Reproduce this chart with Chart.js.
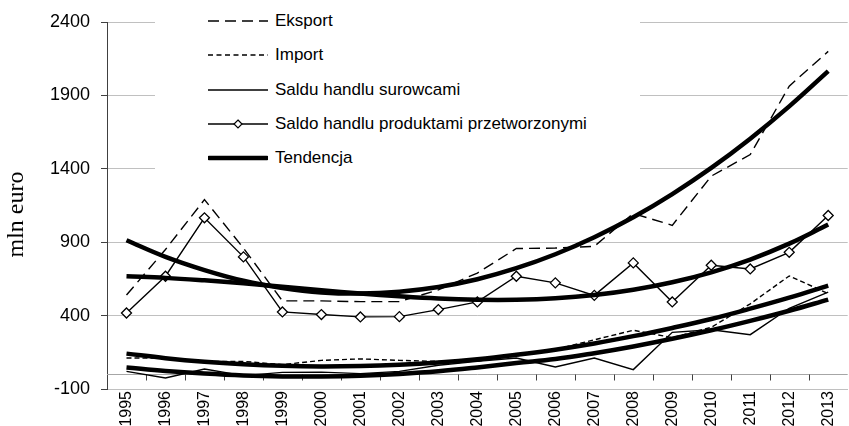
<!DOCTYPE html>
<html>
<head>
<meta charset="utf-8">
<script src="https://cdn.jsdelivr.net/npm/chart.js@4.4.1/dist/chart.umd.min.js"></script>
<style>
  html, body { margin: 0; padding: 0; overflow: hidden; background: #fff; }
  #wrap { position: relative; width: 854px; height: 426px; }
  #legend {
    position: absolute; left: 155px; top: 0; width: 485px; height: 188px;
    background: #fff; color: #000;
    font: 17px "Liberation Sans", Arial, sans-serif;
  }
  .row { position: absolute; left: 53px; height: 20px; display: flex; align-items: center; white-space: nowrap; }
  .row svg { margin-right: 7px; }
</style>
</head>
<body>
<div id="wrap">
  <canvas id="chart"></canvas>
  <div id="legend"></div>
</div>
<script>
const years = ['1995', '1996', '1997', '1998', '1999', '2000', '2001', '2002', '2003', '2004',
  '2005', '2006', '2007', '2008', '2009', '2010', '2011', '2012', '2013'];

const eksport = [540, 850, 1190, 860, 500, 500, 495, 495, 575, 690, 857, 860, 872, 1095, 1015, 1350, 1497, 1963, 2200];
const importVals = [111, 110, 88, 88, 66, 95, 105, 95, 88, 90, 125, 170, 235, 300, 250, 320, 480, 670, 550];
const saldoSurowce = [20, -25, 36, -9, 13, 15, 5, 20, 62, 88, 111, 50, 111, 32, 286, 304, 270, 450, 560];
const saldoPrzetworzone = [418, 668, 1066, 800, 425, 407, 391, 393, 441, 493, 668, 623, 538, 759, 493, 743, 718, 831, 1082];

// trend curves
const trendEksport = [913, 800, 710, 637, 588, 558, 550, 563, 595, 648, 723, 818, 934, 1070, 1228, 1406, 1605, 1825, 2065];
const trendPrzetworzone = [668, 657, 640, 620, 597, 573, 550, 531, 516, 508, 508, 518, 540, 576, 627, 695, 782, 890, 1020];
const trendImport = [141, 110, 86, 69, 58, 54, 57, 66, 81, 103, 133, 168, 210, 260, 316, 377, 447, 522, 604];
const trendSurowce = [47, 23, 5, -8, -14, -14, -9, 3, 21, 47, 77, 104, 144, 190, 242, 300, 364, 433, 509];

const yTicks = [-100, 400, 900, 1400, 1900, 2400];

const seriesNames = ['Eksport', 'Import', 'Saldu handlu surowcami', 'Saldo handlu produktami przetworzonymi', 'Tendencja'];

Chart.defaults.font.family = '"Liberation Sans", Arial, sans-serif';
Chart.defaults.color = '#000';

function dataLine(label, data, dash, extra) {
  return Object.assign({
    label: label,
    data: data,
    borderColor: '#000',
    borderWidth: 1.4,
    borderDash: dash,
    pointRadius: 0,
    tension: 0,
    fill: false,
    order: 1,
  }, extra || {});
}

function trendLine(data) {
  return {
    label: seriesNames[4],
    data: data,
    borderColor: '#000',
    borderWidth: 4.5,
    pointRadius: 0,
    tension: 0.4,
    fill: false,
    order: 0,
  };
}

// horizontal axis line crossing at 0, with tick marks between the years
const zeroAxis = {
  id: 'zeroAxis',
  beforeDatasetsDraw(chart) {
    const { ctx, chartArea, scales } = chart;
    const x = scales.x;
    const y0 = Math.round(scales.y.getPixelForValue(0)) + 0.5;
    const half = (x.getPixelForValue(1) - x.getPixelForValue(0)) / 2;

    ctx.save();
    ctx.lineWidth = 1;
    ctx.strokeStyle = '#a6a6a6';
    ctx.beginPath();
    ctx.moveTo(chartArea.left, y0);
    ctx.lineTo(chartArea.right, y0);
    ctx.stroke();

    ctx.strokeStyle = '#404040';
    ctx.beginPath();
    for (let i = 1; i < years.length; i++) {
      const px = Math.round(x.getPixelForValue(i) - half) + 0.5;
      ctx.moveTo(px, y0);
      ctx.lineTo(px, y0 + 6);
    }
    ctx.stroke();
    ctx.restore();
  },
};

const ctx = document.getElementById('chart').getContext('2d');

new Chart(ctx, {
  type: 'line',
  data: {
    labels: years,
    datasets: [
      dataLine(seriesNames[0], eksport, [11, 6]),
      dataLine(seriesNames[1], importVals, [5, 3]),
      dataLine(seriesNames[2], saldoSurowce, []),
      dataLine(seriesNames[3], saldoPrzetworzone, [], {
        pointStyle: 'rectRot',
        pointRadius: 5,
        pointBackgroundColor: '#fff',
        pointBorderColor: '#000',
        pointBorderWidth: 1.3,
      }),
      trendLine(trendEksport),
      trendLine(trendPrzetworzone),
      trendLine(trendImport),
      trendLine(trendSurowce),
    ],
  },
  options: {
    responsive: true,
    maintainAspectRatio: false,
    animation: false,
    layout: { padding: { top: 22, right: 0, bottom: 0, left: 0 } },
    plugins: {
      legend: { display: false },
      tooltip: { enabled: false },
    },
    scales: {
      x: {
        offset: true,
        grid: { display: false, drawTicks: false },
        border: { color: '#c0c0c0' },
        ticks: {
          font: { size: 16 },
          minRotation: 90,
          maxRotation: 90,
          padding: 2,
          autoSkip: false,
        },
        afterFit: (scale) => { scale.height = 37; },
      },
      y: {
        min: -100,
        max: 2400,
        afterBuildTicks: (scale) => { scale.ticks = yTicks.map((v) => ({ value: v })); },
        grid: { color: '#c0c0c0', tickColor: '#404040', tickLength: 6 },
        border: { color: '#404040' },
        ticks: { font: { size: 18 }, padding: 11, callback: (v) => String(v) },
        title: {
          display: true,
          text: 'mln euro   ',
          font: { family: '"Liberation Serif", "Times New Roman", serif', size: 24 },
          padding: { top: 2, bottom: 0 },
        },
        afterFit: (scale) => { scale.width = 107; },
      },
    },
  },
  plugins: [zeroAxis],
});

// legend drawn as html on a white box over the plot, like the original
function legendSample(i) {
  let s = '<svg width="60" height="14" viewBox="0 0 60 14">';
  if (i === 0) s += '<line x1="0" y1="7" x2="60" y2="7" stroke="#000" stroke-width="1.6" stroke-dasharray="11 6"/>';
  if (i === 1) s += '<line x1="0" y1="7" x2="60" y2="7" stroke="#000" stroke-width="1.4" stroke-dasharray="5 3.5"/>';
  if (i === 2) s += '<line x1="0" y1="7" x2="60" y2="7" stroke="#000" stroke-width="1.4"/>';
  if (i === 3) {
    s += '<line x1="0" y1="7" x2="60" y2="7" stroke="#000" stroke-width="1.4"/>';
    s += '<path d="M30 3 L34 7 L30 11 L26 7 Z" fill="#fff" stroke="#000" stroke-width="1.2"/>';
  }
  if (i === 4) s += '<line x1="1" y1="7" x2="59" y2="7" stroke="#000" stroke-width="4.5" stroke-linecap="round"/>';
  return s + '</svg>';
}

const legend = document.getElementById('legend');
seriesNames.forEach((name, i) => {
  const row = document.createElement('div');
  row.className = 'row';
  row.style.top = (10.7 + 34.4 * i) + 'px';
  row.innerHTML = legendSample(i) + '<span>' + name + '</span>';
  legend.appendChild(row);
});
</script>
</body>
</html>
